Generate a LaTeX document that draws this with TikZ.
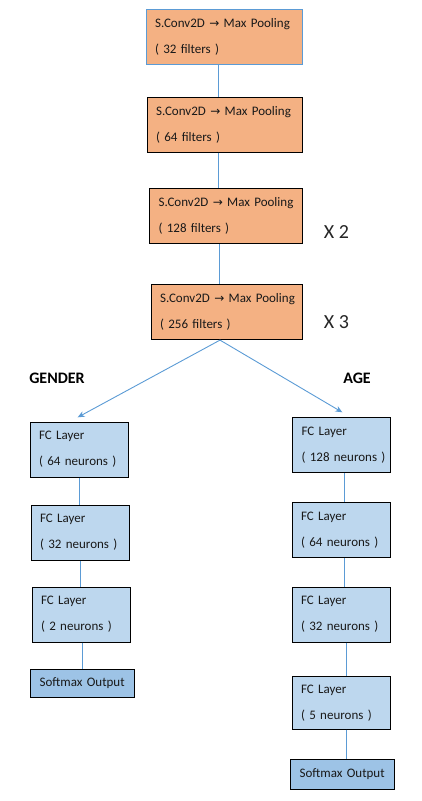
\documentclass[tikz,border=0pt]{standalone}
\usepackage{fontspec}
\setmainfont{Carlito}
\newfontfamily\symfont{DejaVu Sans}
\usetikzlibrary{arrows.meta}
\definecolor{convfill}{HTML}{F4B183}
\definecolor{fcfill}{HTML}{BDD7EE}
\definecolor{smfill}{HTML}{9DC3E6}
\definecolor{linkblue}{HTML}{5B9BD5}
\tikzset{
  boxbase/.style={draw=black, line width=1.1pt, anchor=north west, align=left,
    inner xsep=9pt, inner ysep=0pt, font=\fontsize{13}{26}\selectfont, text=black!90},
  convbox/.style={boxbase, fill=convfill, minimum height=55pt},
  fcbox/.style={boxbase, fill=fcfill, minimum height=55pt},
  smbox/.style={boxbase, fill=smfill, minimum height=28pt},
  link/.style={draw=linkblue, line width=0.9pt},
  arr/.style={link, -{Stealth[length=7pt,width=6pt]}},
  headlbl/.style={font=\fontsize{16}{18}\selectfont\bfseries, text=black},
  rptlbl/.style={font=\fontsize{20}{22}\selectfont, text=black!85}
}
\newcommand{\convtext}[1]{\mbox{S.Conv2D {\symfont\fontsize{12}{26}\selectfont→} Max Pooling}\\\mbox{( #1 filters )}}
\newcommand{\fctext}[1]{\mbox{FC Layer}\\\mbox{( #1 neurons )}}
\begin{document}
\begin{tikzpicture}[x=1pt,y=-1pt]
\useasboundingbox (0,0) rectangle (421,801);
% conv stack
\node[convbox, draw=linkblue, text width=138pt] (b1) at (145.5,9) {\convtext{32}};
\node[convbox, text width=137pt] (b2) at (146.5,96.5) {\convtext{64}};
\node[convbox, text width=135pt] (b3) at (149,188) {\convtext{128}};
\node[convbox, text width=133pt] (b4) at (150.5,284) {\convtext{256}};
\node[rptlbl] (x2) at (336.5,232) {X 2};
\node[rptlbl] (x3) at (336.5,322.5) {X 3};
% heads
\node[headlbl] (gender) at (57,378) {GENDER};
\node[headlbl] (age) at (357,378) {AGE};
% gender branch
\node[fcbox, text width=80pt] (g1) at (29.5,421.5) {\fctext{64}};
\node[fcbox, text width=80pt] (g2) at (30.5,504.5) {\fctext{32}};
\node[fcbox, text width=80pt] (g3) at (31.5,586.5) {\fctext{2}};
\node[smbox, text width=86pt] (gs) at (30,669) {\mbox{Softmax Output}};
% age branch
\node[fcbox, text width=80pt] (a1) at (292,417) {\fctext{128}};
\node[fcbox, text width=80pt] (a2) at (291.5,502) {\fctext{64}};
\node[fcbox, text width=80pt] (a3) at (291.5,586.5) {\fctext{32}};
\node[fcbox, text width=80pt, minimum height=52.5pt] (a4) at (291.5,676) {\fctext{5}};
\node[smbox, text width=86pt, minimum height=30.5pt] (as) at (290,758.5) {\mbox{Softmax Output}};
% connector guide coordinates
\coordinate (k1) at (218.5,0);
\coordinate (k2) at (218.7,0);
\coordinate (k3) at (219,0);
\coordinate (k4) at (220,0);
\coordinate (m1) at (79,0);
\coordinate (m2) at (80,0);
\coordinate (m3) at (82,0);
\coordinate (n1) at (344.3,0);
\coordinate (n2) at (344.5,0);
\coordinate (n3) at (346,0);
\coordinate (n4) at (346.7,0);
\coordinate (gtip) at (77.7,417.3);
\coordinate (atip) at (342.3,412.3);
% connectors
\draw[link] (b1.south -| k1) -- (b2.north -| k1);
\draw[link] (b2.south -| k2) -- (b3.north -| k2);
\draw[link] (b3.south -| k3) -- (b4.north -| k3);
\draw[arr] (b4.south -| k4) -- (gtip);
\draw[arr] (b4.south -| k4) -- (atip);
\draw[link] (g1.south -| m1) -- (g2.north -| m1);
\draw[link] (g2.south -| m2) -- (g3.north -| m2);
\draw[link] (g3.south -| m3) -- (gs.north -| m3);
\draw[link] (a1.south -| n1) -- (a2.north -| n1);
\draw[link] (a2.south -| n2) -- (a3.north -| n2);
\draw[link] (a3.south -| n3) -- (a4.north -| n3);
\draw[link] (a4.south -| n4) -- (as.north -| n4);
\end{tikzpicture}
\end{document}
